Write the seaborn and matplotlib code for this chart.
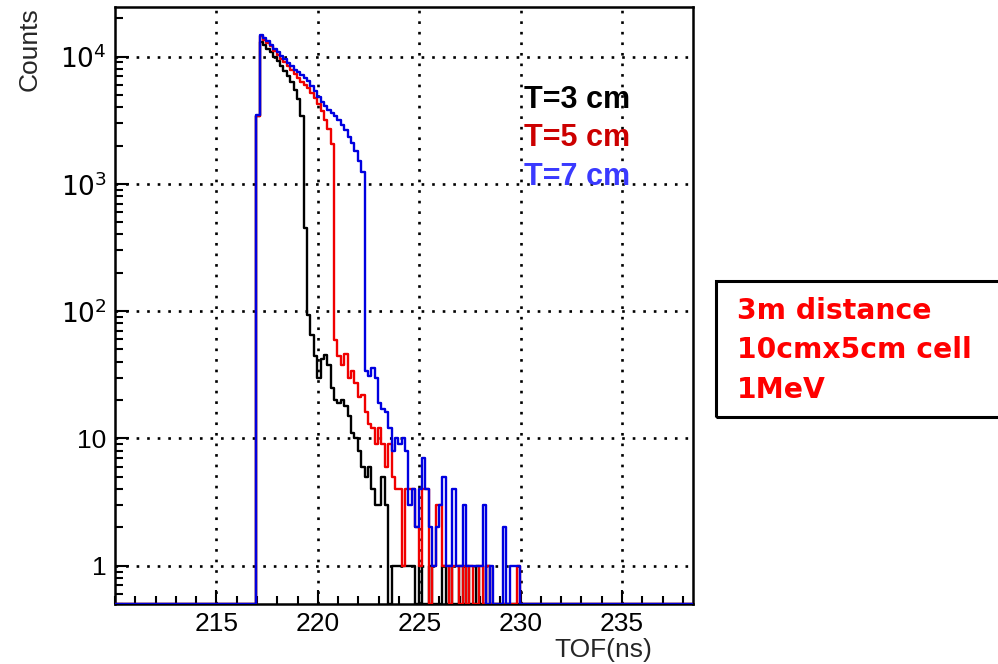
import numpy as np
import pandas as pd
import matplotlib
matplotlib.use("Agg")
import matplotlib.pyplot as plt
import seaborn as sns
from matplotlib.patches import Rectangle
from matplotlib.ticker import FixedLocator, FuncFormatter, MultipleLocator, LogLocator, NullFormatter

# Time-of-flight histograms, bins of 1/6 ns starting at 217 ns
BIN_START = 216.97
BIN_WIDTH = 1.0 / 6.0

counts_3cm = [3400, 13000, 12300, 11500, 10800, 10000, 9200, 8500, 7700, 7000,
              6300, 5500, 4600, 3400, 446, 93, 65, 44, 30, 42,
              45, 38, 25, 20, 19, 20, 18, 15, 11, 10,
              8, 6, 5, 6, 4, 3, 3, 5, 3, 0,
              1, 1, 1, 1, 1, 1, 1, 0, 1, 0,
              0, 1, 0, 0, 0, 1, 0, 1, 0, 0,
              1, 0, 1, 0, 0, 1, 0, 0, 1, 0]
counts_5cm = [3400, 14400, 13600, 12800, 12000, 11000, 10300, 9600, 9000, 8400,
              7900, 7300, 6800, 6300, 6000, 5700, 5200, 4700, 4200, 3700,
              3200, 2700, 2040, 59, 44, 38, 46, 30, 34, 27,
              21, 22, 16, 13, 12, 9, 12, 9, 6, 9,
              5, 4, 4, 1, 4, 4, 4, 2, 1, 4,
              4, 0, 1, 3, 3, 1, 1, 0, 1, 1,
              0, 1, 0, 1, 0, 0, 1, 0, 1, 0,
              0, 0, 0, 0, 0, 0, 0, 1, 0, 0]
counts_7cm = [3500, 14800, 14000, 13200, 12400, 11500, 10800, 10100, 9500, 8900,
              8400, 7900, 7500, 7100, 6800, 6400, 5900, 5400, 4800, 4400,
              4100, 3800, 3600, 3400, 3200, 2900, 2650, 2350, 2100, 1800,
              1500, 1240, 34, 31, 36, 30, 19, 17, 16, 12,
              8, 10, 9, 10, 8, 3, 4, 2, 4, 7,
              4, 2, 1, 2, 3, 5, 1, 1, 4, 1,
              1, 3, 1, 1, 1, 1, 1, 3, 0, 1,
              0, 0, 0, 2, 0, 1, 1, 1, 0, 0]

series = [("T=3 cm", counts_3cm, "#000000", "#000000"),
          ("T=5 cm", counts_5cm, "#f00000", "#cc0000"),
          ("T=7 cm", counts_7cm, "#0000e0", "#3a3aff")]

X_MIN, X_MAX = 210.0, 238.5
Y_MIN, Y_MAX = 0.5, 24500.0

W, H = 998, 664
sns.set_style("white")
plt.rcParams["font.family"] = ["Liberation Sans Narrow", "Liberation Sans", "DejaVu Sans"]
fig = plt.figure(figsize=(W / 100, H / 100), dpi=100)

ax = fig.add_axes([115 / W, 1 - 604 / H, (693 - 115) / W, (604 - 7) / H])
ax.set_yscale("log")

# full set of bin edges across the axis; empty bins sit on the bottom of the frame
k_lo = int(np.floor((X_MIN - BIN_START) / BIN_WIDTH))
k_hi = int(np.ceil((X_MAX - BIN_START) / BIN_WIDTH))
edges = BIN_START + np.arange(k_lo, k_hi + 1) * BIN_WIDTH
centers = 0.5 * (edges[:-1] + edges[1:])

for label, counts, line_color, _ in series:
    full = np.zeros(len(centers))
    full[-k_lo:-k_lo + len(counts)] = counts
    df = pd.DataFrame({"tof": centers, "w": np.where(full > 0, full, Y_MIN)})
    sns.histplot(data=df, x="tof", weights="w", bins=list(edges), element="step",
                 fill=False, color=line_color, linewidth=1.7, zorder=3, ax=ax)

ax.set_xlim(X_MIN, X_MAX)
ax.set_ylim(Y_MIN, Y_MAX)

# ticks and grid
ax.xaxis.set_major_locator(FixedLocator([215, 220, 225, 230, 235]))
ax.xaxis.set_minor_locator(MultipleLocator(1))
ax.yaxis.set_major_locator(FixedLocator([1, 10, 100, 1000, 10000]))
ax.yaxis.set_minor_locator(LogLocator(base=10, subs=np.arange(2, 10)))
ax.yaxis.set_minor_formatter(NullFormatter())


def y_fmt(v, pos):
    if v == 1:
        return "1"
    if v == 10:
        return "10"
    return r"$10^{%d}$" % int(round(np.log10(v)))


ax.yaxis.set_major_formatter(FuncFormatter(y_fmt))
ax.xaxis.set_major_formatter(FuncFormatter(lambda v, p: "%d" % v))

ax.tick_params(axis="both", which="both", direction="in", bottom=True, left=True,
               top=False, right=False, colors="black", labelsize=19, width=1.5)
ax.tick_params(axis="both", which="major", length=10, pad=6)
ax.tick_params(axis="both", which="minor", length=5.5)
ax.grid(True, which="major", color="black", linestyle=(0, (1, 3)), linewidth=1.9)

for sp in ax.spines.values():
    sp.set_color("black")
    sp.set_linewidth(1.8)

ax.set_xlabel("")
ax.set_ylabel("")
fig.text(30 / W, 1 - 7 / H, "Counts", rotation=90, ha="center", va="top", fontsize=19)
fig.text(652 / W, 1 - 650 / H, "TOF(ns)", ha="right", va="center", fontsize=19)

# series labels
for i, (label, _, _, text_color) in enumerate(series):
    fig.text(524 / W, 1 - (100 + 38.5 * i) / H, label, color=text_color, fontsize=22,
             fontweight="bold", family=["Liberation Sans", "DejaVu Sans"], ha="left",
             va="center")

# run conditions box
fig.patches.append(Rectangle((716 / W, 1 - 417 / H), 300 / W, (417 - 281) / H,
                             transform=fig.transFigure, fill=False, edgecolor="black",
                             linewidth=2.2, clip_on=False))
for i, line in enumerate(["3m distance", "10cmx5cm cell", "1MeV"]):
    fig.text(737 / W, 1 - (311 + 39.5 * i) / H, line, color="#ff0000", fontsize=20.3,
             fontweight="bold", family=["DejaVu Sans"], ha="left", va="center")

fig.savefig("out.png", dpi=100, facecolor="white")
